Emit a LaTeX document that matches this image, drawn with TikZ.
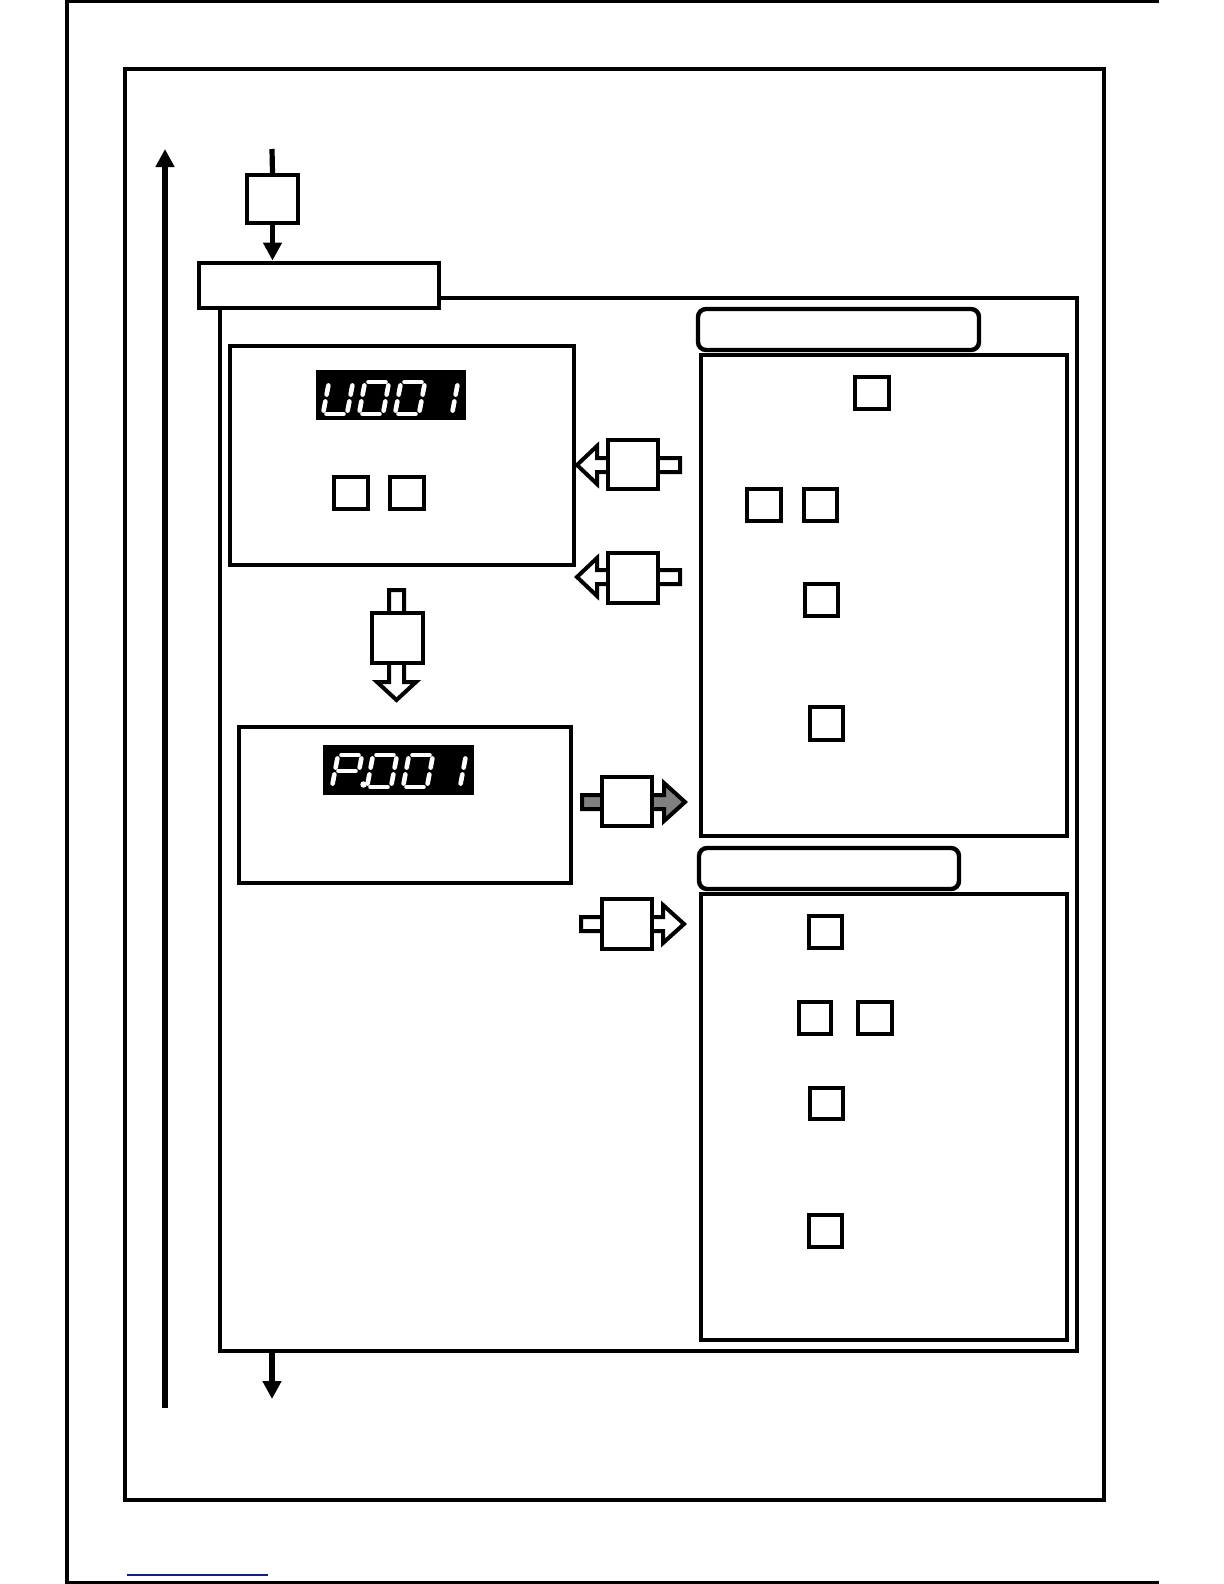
\documentclass[tikz,border=0pt]{standalone}
\usetikzlibrary{fit,arrows.meta}
\definecolor{navyline}{RGB}{20,30,130}
\tikzset{
  frame/.style={draw, line width=2.4pt, inner sep=0pt, fill=white},
  sq/.style={draw, line width=1.6pt, inner sep=0pt, fill=white},
  blockarrow/.style={draw, line width=2pt, line join=miter},
  flowline/.style={line width=2.6pt},
  flowtip/.style={-{Triangle[length=9pt,width=9pt]}},
  led/.style={fill=black},
  seg/.style={draw=white, line width=2.3pt, line cap=round, shorten <=1.75pt, shorten >=1.75pt},
  rframe/.style={draw, line width=2.2pt, rounded corners=4pt, inner sep=0pt},
}
% seven-segment cell: base at bottom-left (0,32), slant 6, width 24, height 32
\newcommand{\sgA}{\draw[seg] (6,0) -- (30,0);}
\newcommand{\sgB}{\draw[seg] (30,0) -- (27,16);}
\newcommand{\sgC}{\draw[seg] (27,16) -- (24,32);}
\newcommand{\sgD}{\draw[seg] (0,32) -- (24,32);}
\newcommand{\sgE}{\draw[seg] (3,16) -- (0,32);}
\newcommand{\sgF}{\draw[seg] (6,0) -- (3,16);}
\newcommand{\sgG}{\draw[seg] (3,16) -- (27,16);}
\newcommand{\sevdigit}[3]{\begin{scope}[shift={(#1,#2)}]\foreach \s in {#3}{\csname sg\s\endcsname}\end{scope}}
\begin{document}
\begin{tikzpicture}[x=0.5pt,y=-0.5pt]
\useasboundingbox (0,0) rectangle (1224,1584);
% page borders
\draw[line width=1.6pt] (1159,1) -- (67,1) -- (67,1583) -- (1159,1583);
\draw[navyline, line width=0.8pt] (127,1575) -- (268,1575);
% outer frame
\node[frame, line width=2pt, fill=none, fit={(125,69) (1104,1500)}] (outer) {};
% left up arrow
\coordinate (upstart) at (165,1408);
\coordinate (upend) at (165,149);
\draw[flowline, flowtip] (upstart) -- (upend);
% input
\coordinate (intop) at (272,149);
\node[sq, line width=1.8pt, fit={(247,175) (298,223)}] (inbox) {};
% big frame and header
\node[frame, fill=none, fit={(220,298) (1077,1351)}] (big) {};
\node[frame, fit={(199,263) (439,308)}] (hdr) {};
\draw[flowline] (intop) -- (inbox.north);
\draw[flowline, flowtip] (inbox.south) -- (inbox.south |- hdr.north);
\coordinate (outend) at (272,1399);
\draw[flowline, flowtip] (outend |- big.south) -- (outend);
% U001 panel
\node[frame, fit={(230,346) (574,565)}] (ubox) {};
\node[led, inner sep=0pt, fit={(316,370) (466,420)}] (uled) {};
\sevdigit{323}{382}{B,C,D,E,F}
\sevdigit{359}{382}{A,B,C,D,E,F}
\sevdigit{395}{382}{A,B,C,D,E,F}
\sevdigit{428}{382}{B,C}
\node[sq, fit={(334,477) (368,509)}] (u1) {};
\node[sq, fit={(390,477) (424,509)}] (u2) {};
% P001 panel
\node[frame, fit={(239,727) (571,883)}] (pbox) {};
\node[led, inner sep=0pt, fit={(323,745) (474,795)}] (pled) {};
\sevdigit{332}{755}{A,B,E,F,G}
\fill[white] (363.5,784.5) circle (1.6pt);
\sevdigit{367}{755}{A,B,C,D,E,F}
\sevdigit{403}{755}{A,B,C,D,E,F}
\sevdigit{436}{755}{B,C}
% down hollow arrow between panels
\draw[blockarrow, fill=white] (389,590) -- (404,590) -- (404,682) -- (416,682) -- (396.5,700) -- (377,682) -- (389,682) -- cycle;
\node[sq, line width=1.8pt, fit={(372,613) (423,663)}] (dkey) {};
% left arrows
\draw[blockarrow, fill=white] (577,465) -- (597,446) -- (597,458) -- (680,458) -- (680,472) -- (597,472) -- (597,484) -- cycle;
\node[sq, line width=1.8pt, fit={(608,440) (658,489)}] (lkey1) {};
\draw[blockarrow, fill=white] (577,577) -- (597,558) -- (597,570) -- (680,570) -- (680,584) -- (597,584) -- (597,596) -- cycle;
\node[sq, line width=1.8pt, fit={(608,553) (658,603)}] (lkey2) {};
% right arrows
\draw[blockarrow, fill=gray] (582,795) -- (664,795) -- (664,783) -- (685,802) -- (664,821) -- (664,809) -- (582,809) -- cycle;
\node[sq, line width=1.8pt, fit={(602,777) (652,826)}] (rkey1) {};
\draw[blockarrow, fill=white] (581,917) -- (663,917) -- (663,905) -- (684,924) -- (663,943) -- (663,931) -- (581,931) -- cycle;
\node[sq, line width=1.8pt, fit={(602,899) (652,949)}] (rkey2) {};
% right upper section
\node[rframe, fit={(698,309) (979,350)}] (rh1) {};
\node[frame, fit={(701,355) (1067,836)}] (rb1) {};
\node[sq, fit={(855,377) (889,409)}] (r1a) {};
\node[sq, fit={(747,489) (781,521)}] (r1b) {};
\node[sq, fit={(804,489) (837,521)}] (r1c) {};
\node[sq, fit={(805,584) (838,616)}] (r1d) {};
\node[sq, fit={(810,707) (843,740)}] (r1e) {};
% right lower section
\node[rframe, fit={(699,848) (959,889)}] (rh2) {};
\node[frame, fit={(701,894) (1067,1340)}] (rb2) {};
\node[sq, fit={(809,916) (842,948)}] (r2a) {};
\node[sq, fit={(799,1002) (831,1034)}] (r2b) {};
\node[sq, fit={(858,1002) (892,1034)}] (r2c) {};
\node[sq, fit={(810,1088) (843,1119)}] (r2d) {};
\node[sq, fit={(809,1215) (842,1247)}] (r2e) {};
\end{tikzpicture}
\end{document}
